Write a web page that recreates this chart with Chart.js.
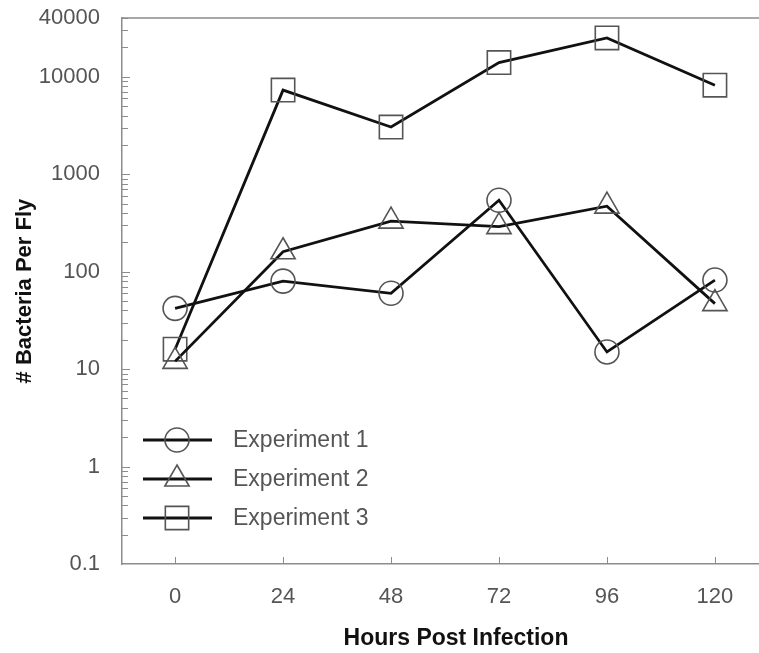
<!DOCTYPE html>
<html>
<head>
<meta charset="utf-8">
<script src="https://cdn.jsdelivr.net/npm/chart.js@4.4.0/dist/chart.umd.min.js"></script>
<style>
  html, body { margin: 0; padding: 0; background: #fff; overflow: hidden; }
  #wrap { width: 778px; height: 653px; }
</style>
</head>
<body>
<div id="wrap"><canvas id="chart"></canvas></div>
<script>
// data
const hours = [0, 24, 48, 72, 96, 120];
const exp1 = [42, 80, 60, 540, 15, 82];
const exp2 = [12, 160, 330, 290, 470, 47];
const exp3 = [16, 7300, 3050, 14000, 25000, 8200];
const seriesNames = ['Experiment 1', 'Experiment 2', 'Experiment 3'];
const yTicks = [0.1, 1, 10, 100, 1000, 10000, 40000];
const xTitle = 'Hours Post Infection';
const yTitle = '# Bacteria Per Fly';

const FONT = "'Liberation Sans', Arial, sans-serif";
const AXIS = '#8c8c8c';
const MARK = '#555';
const TXT = '#555';

const pts = vals => hours.map((h, i) => ({ x: h, y: vals[i] }));

function series(label, vals, style, r) {
  return {
    label: label,
    data: pts(vals),
    borderColor: '#111',
    borderWidth: 2.8,
    tension: 0,
    pointStyle: style,
    pointRadius: r,
    pointHoverRadius: r,
    pointBorderColor: MARK,
    pointBorderWidth: 1.6,
    pointBackgroundColor: 'rgba(0,0,0,0)'
  };
}

// inward ticks, top frame line, x title
const frame = {
  id: 'frame',
  beforeDatasetsDraw(chart) {
    const { ctx, chartArea: a, scales: { x, y } } = chart;
    ctx.save();
    ctx.strokeStyle = AXIS;
    ctx.lineWidth = 1.5;
    ctx.beginPath();
    ctx.moveTo(a.left, a.top);
    ctx.lineTo(chart.width, a.top);
    ctx.moveTo(a.right, a.bottom);
    ctx.lineTo(chart.width, a.bottom);
    ctx.stroke();
    ctx.lineWidth = 1;
    ctx.beginPath();
    for (let d = 0.1; d < 40000; d *= 10) {
      for (let m = 1; m <= 9; m++) {
        const v = d * m;
        if (v <= 0.1 || v > 40000) continue;
        const py = Math.round(y.getPixelForValue(v)) + 0.5;
        ctx.moveTo(a.left, py);
        ctx.lineTo(a.left + (m === 1 ? 8 : 6), py);
      }
    }
    hours.forEach(h => {
      const px = Math.round(x.getPixelForValue(h)) + 0.5;
      ctx.moveTo(px, a.bottom);
      ctx.lineTo(px, a.bottom - 7);
    });
    ctx.stroke();
    // x title sits a bit right of the plot centre in the original
    ctx.fillStyle = '#111';
    ctx.font = 'bold 23px ' + FONT;
    ctx.textAlign = 'center';
    ctx.textBaseline = 'middle';
    ctx.fillText(xTitle, 456, 639);
    ctx.restore();
  }
};

// legend: line with marker through it, inside the plot
const lineLegend = {
  id: 'lineLegend',
  afterDatasetsDraw(chart) {
    const { ctx } = chart;
    const rows = [440, 479, 518];
    ctx.save();
    chart.data.datasets.forEach((ds, i) => {
      const yy = rows[i];
      ctx.strokeStyle = '#111';
      ctx.lineWidth = 2.8;
      ctx.beginPath();
      ctx.moveTo(143, yy);
      ctx.lineTo(212, yy);
      ctx.stroke();
      ctx.strokeStyle = MARK;
      ctx.fillStyle = 'rgba(0,0,0,0)';
      ctx.lineWidth = 1.6;
      Chart.helpers.drawPoint(ctx, { pointStyle: ds.pointStyle, radius: ds.pointRadius, borderWidth: 1.6, rotation: 0 }, 177, yy);
      ctx.fillStyle = TXT;
      ctx.font = '23px ' + FONT;
      ctx.textBaseline = 'middle';
      ctx.fillText(ds.label, 233, yy + 1);
    });
    ctx.restore();
  }
};

new Chart(document.getElementById('chart'), {
  type: 'line',
  data: {
    datasets: [
      series(seriesNames[0], exp1, 'circle', 12),
      series(seriesNames[1], exp2, 'triangle', 14),
      series(seriesNames[2], exp3, 'rect', 16.5)
    ]
  },
  options: {
    responsive: true,
    maintainAspectRatio: false,
    animation: false,
    layout: { padding: { top: 18, right: 0, left: 12, bottom: 0 } },
    plugins: { legend: { display: false }, tooltip: { enabled: false } },
    scales: {
      x: {
        type: 'linear',
        min: -11.8,
        max: 130,
        afterBuildTicks: s => { s.ticks = hours.map(v => ({ value: v })); },
        afterFit: s => { s.height = 89; },
        grid: { display: false, drawTicks: false },
        border: { display: true, color: AXIS, width: 1.5 },
        ticks: { color: TXT, padding: 20, maxRotation: 0, font: { family: FONT, size: 22 } },
        title: { display: false }
      },
      y: {
        type: 'logarithmic',
        min: 0.1,
        max: 40000,
        afterBuildTicks: s => { s.ticks = yTicks.map(v => ({ value: v })); },
        afterFit: s => { s.width = 110; s.paddingTop = 0; s.paddingBottom = 0; },
        grid: { display: false, drawTicks: false },
        border: { display: true, color: AXIS, width: 1.5 },
        ticks: {
          color: TXT, padding: 22, font: { family: FONT, size: 22 },
          callback: v => String(v)
        },
        title: {
          display: true, text: yTitle, color: '#111',
          padding: { top: 0, bottom: 0 },
          font: { family: FONT, size: 22, weight: 'bold' }
        }
      }
    }
  },
  plugins: [frame, lineLegend]
});
</script>
</body>
</html>
